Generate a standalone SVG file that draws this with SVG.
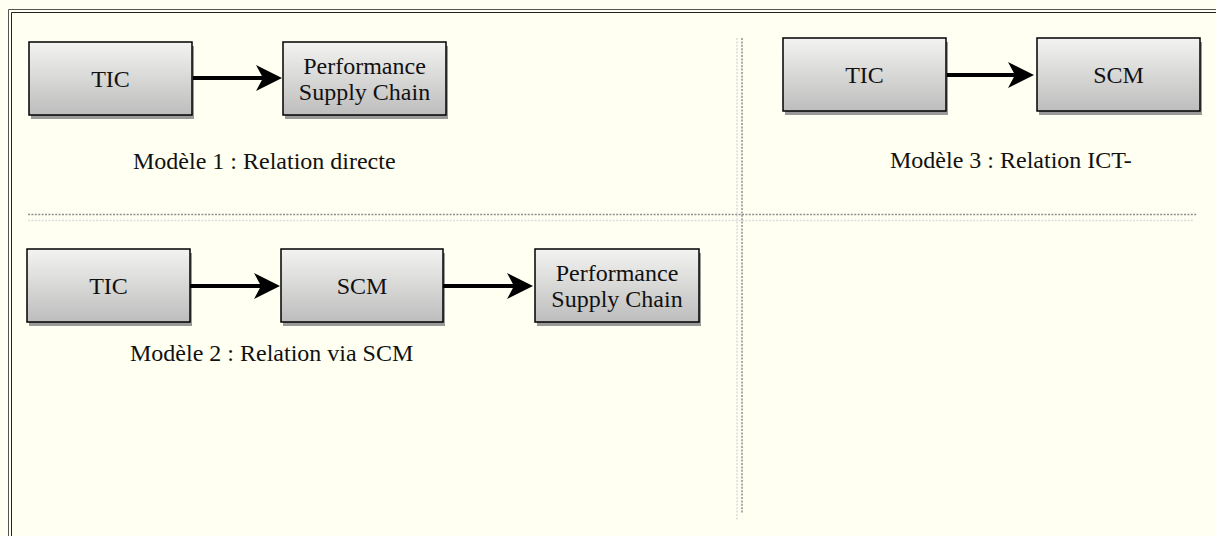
<svg xmlns="http://www.w3.org/2000/svg" width="1216" height="536" viewBox="0 0 1216 536">
<defs>
<linearGradient id="g" x1="0" y1="0" x2="0" y2="1">
<stop offset="0" stop-color="#f3f3f1"/>
<stop offset="1" stop-color="#bdbdbd"/>
</linearGradient>
<marker id="ah" markerUnits="userSpaceOnUse" markerWidth="26" markerHeight="26" viewBox="0 0 26 26" refX="7" refY="13" orient="auto">
<path d="M0,0 L26,13 L0,26 L7,13 Z" fill="#000"/>
</marker>
<style>
.box{fill:url(#g);stroke:#000;stroke-width:1.5}
.sh{fill:#9a9a9a}
.t{font-family:"Liberation Serif","Times New Roman",serif;font-size:24px;fill:#111}
.m{text-anchor:middle}
.c{stroke:#000;stroke-width:4;fill:none;marker-end:url(#ah)}
.dd{stroke:#8f8f8f;stroke-width:1.5;stroke-dasharray:2 1.4;fill:none}
.dl{stroke:#dcdcdc;stroke-width:1.5;stroke-dasharray:2 1.4;fill:none}
</style>
</defs>
<rect x="0" y="0" width="1216" height="536" fill="#fffff2"/>
<g id="frame" fill="none">
<path d="M8.5,536 V9.5 H1216" stroke="#555" stroke-width="1"/>
<path d="M11.5,536 V12.5 H1216" stroke="#222" stroke-width="1"/>
</g>
<g id="dividers">
<line class="dl" x1="28" y1="220.5" x2="1193" y2="220.5"/>
<line class="dl" x1="737" y1="38" x2="737" y2="520"/>
<line class="dd" x1="28" y1="214.5" x2="1197" y2="214.5"/>
<line class="dd" x1="742" y1="38" x2="742" y2="514"/>
</g>
<g id="m1-tic">
<rect class="sh" x="31" y="46" width="163" height="73"/>
<rect class="box" x="29" y="42" width="163" height="73"/>
<text class="t m" x="110.5" y="87">TIC</text>
</g>
<g id="m1-perf">
<rect class="sh" x="285" y="46" width="163" height="73"/>
<rect class="box" x="283" y="42" width="163" height="73"/>
<text class="t m" x="364.5" y="74">Performance</text>
<text class="t m" x="364.5" y="100">Supply Chain</text>
</g>
<g id="m1-label"><text class="t" x="133" y="169">Modèle 1 : Relation directe</text></g>
<g id="m3-tic">
<rect class="sh" x="785" y="42" width="163" height="73"/>
<rect class="box" x="783" y="38" width="163" height="73"/>
<text class="t m" x="864.5" y="83">TIC</text>
</g>
<g id="m3-scm">
<rect class="sh" x="1039" y="42" width="163" height="73"/>
<rect class="box" x="1037" y="38" width="163" height="73"/>
<text class="t m" x="1118.5" y="83">SCM</text>
</g>
<g id="m3-label"><text class="t" x="890" y="168">Modèle 3 : Relation ICT-</text></g>
<g id="m2-tic">
<rect class="sh" x="29" y="253" width="163" height="73"/>
<rect class="box" x="27" y="249" width="163" height="73"/>
<text class="t m" x="108.5" y="294">TIC</text>
</g>
<g id="m2-scm">
<rect class="sh" x="283" y="253" width="162" height="73"/>
<rect class="box" x="281" y="249" width="162" height="73"/>
<text class="t m" x="362" y="294">SCM</text>
</g>
<g id="m2-perf">
<rect class="sh" x="537" y="253" width="164" height="73"/>
<rect class="box" x="535" y="249" width="164" height="73"/>
<text class="t m" x="617" y="281">Performance</text>
<text class="t m" x="617" y="307">Supply Chain</text>
</g>
<g id="m2-label"><text class="t" x="130" y="361">Modèle 2 : Relation via SCM</text></g>
<g id="connectors">
<line class="c" x1="193" y1="78" x2="263" y2="78"/>
<line class="c" x1="947" y1="75" x2="1015" y2="75"/>
<line class="c" x1="190" y1="286" x2="261" y2="286"/>
<line class="c" x1="443" y1="286" x2="514" y2="286"/>
</g>
</svg>
